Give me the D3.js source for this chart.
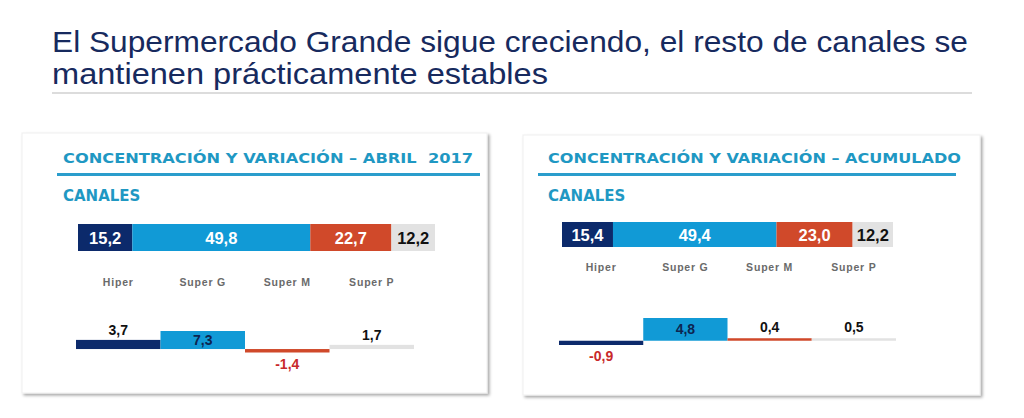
<!DOCTYPE html>
<html><head><meta charset="utf-8">
<script src="https://cdn.jsdelivr.net/npm/d3@7"></script>
<style>
body{margin:0;background:#fff;}
svg{display:block;}
</style></head>
<body>
<svg id="c" width="1024" height="418"></svg>
<script>
const categories = ["Hiper", "Super G", "Super M", "Super P"];
const titleLines = ["El Supermercado Grande sigue creciendo, el resto de canales se", "mantienen prácticamente estables"];
const panelTitles = ["CONCENTRACIÓN Y VARIACIÓN – ABRIL  2017", "CONCENTRACIÓN Y VARIACIÓN – ACUMULADO"];
const subTitle = "CANALES";
const shareAbril = [15.2, 49.8, 22.7, 12.2];
const varAbril = [3.7, 7.3, -1.4, 1.7];
const shareAcum = [15.4, 49.4, 23.0, 12.2];
const varAcum = [-0.9, 4.8, 0.4, 0.5];

const colors = ["#0c2a6b", "#119ad6", "#d0492a", "#e2e2e2"];
const shareText = ["#ffffff", "#ffffff", "#ffffff", "#111111"];
const loc = d3.formatLocale({decimal: ",", thousands: ".", grouping: [3], currency: ["", "€"], minus: "-"});
const fmt = loc.format(".1f");

const svg = d3.select("#c");
const defs = svg.append("defs");
const f = defs.append("filter").attr("id","sh").attr("x","-5%").attr("y","-5%").attr("width","115%").attr("height","115%");
f.append("feDropShadow").attr("dx",2).attr("dy",2).attr("stdDeviation",1.5).attr("flood-color","#000").attr("flood-opacity",0.35);

// main title
const titleW = [916, 496];
svg.append("g").selectAll("text").data(titleLines).join("text")
  .attr("x", 52).attr("y", (d,i) => 52 + i*32)
  .attr("font-family", "Liberation Sans, Arial, sans-serif")
  .attr("font-size", 29.5).attr("fill", "#172a5e")
  .attr("textLength", (d,i) => titleW[i]).attr("lengthAdjust","spacingAndGlyphs")
  .text(d => d);
svg.append("rect").attr("x",52).attr("y",92).attr("width",920).attr("height",2).attr("fill","#dcdcdc");

const panels = [
  {share: shareAbril, vari: varAbril, title: panelTitles[0], tw: 410,
   card:[22,133,465,260], tx:63, ruleX:[57,480], barX:[78,435], barY:[224,251],
   catX:[76,414], catY:286, yr:[352.5,331]},
  {share: shareAcum, vari: varAcum, title: panelTitles[1], tw: 413,
   card:[523,135,457,260], tx:548, ruleX:[538,956], barX:[562,893], barY:[222,247],
   catX:[559,896], catY:271, yr:[345,318]}
];

panels.forEach(p => {
  const g = svg.append("g");
  g.append("rect").attr("x",p.card[0]).attr("y",p.card[1]).attr("width",p.card[2]).attr("height",p.card[3])
    .attr("fill","#fff").attr("stroke","#efefef").attr("filter","url(#sh)");
  g.append("text").attr("x",p.tx).attr("y",163)
    .attr("font-family","DejaVu Sans, Verdana, sans-serif").attr("font-weight","bold")
    .attr("font-size",14).attr("fill","#1f98c3").style("white-space","pre").text(p.title)
    .attr("textLength", p.tw).attr("lengthAdjust","spacingAndGlyphs");
  g.append("rect").attr("x",p.ruleX[0]).attr("y",173).attr("width",p.ruleX[1]-p.ruleX[0]).attr("height",3).attr("fill","#2a9dcc");
  g.append("text").attr("x",p.tx).attr("y",201)
    .attr("font-family","DejaVu Sans, Verdana, sans-serif").attr("font-weight","bold")
    .attr("font-size",15).attr("fill","#1f98c3").text(subTitle);

  // stacked share bar
  const total = d3.sum(p.share);
  const x = d3.scaleLinear().domain([0,total]).range(p.barX);
  const cum = d3.cumsum(p.share);
  const segs = p.share.map((v,i) => ({v, i, x0: cum[i]-v, x1: cum[i]}));
  g.selectAll(".seg").data(segs).join("rect")
    .attr("x", d => x(d.x0)).attr("width", d => x(d.x1)-x(d.x0))
    .attr("y", p.barY[0]).attr("height", p.barY[1]-p.barY[0])
    .attr("fill", d => colors[d.i]);
  g.selectAll(".segl").data(segs).join("text")
    .attr("x", d => (x(d.x0)+x(d.x1))/2).attr("y", (p.barY[0]+p.barY[1])/2 + 6)
    .attr("text-anchor","middle").attr("font-family","Liberation Sans, Arial, sans-serif")
    .attr("font-weight","bold").attr("font-size",16.5)
    .attr("fill", d => shareText[d.i]).text(d => fmt(d.v));

  // categories
  const xb = d3.scaleBand().domain(categories).range(p.catX).padding(0);
  g.selectAll(".cat").data(categories).join("text")
    .attr("x", d => xb(d) + xb.bandwidth()/2).attr("y", p.catY)
    .attr("text-anchor","middle").attr("font-family","Liberation Sans, Arial, sans-serif")
    .attr("font-weight","bold").attr("font-size",10.5).attr("fill","#6a6a6a")
    .attr("letter-spacing", 0.8).text(d => d);

  // variation bars
  const y = d3.scaleLinear().domain([d3.min(p.vari), d3.max(p.vari)]).range(p.yr);
  const vd = p.vari.map((v,i) => ({v, i, c: categories[i]}));
  const minH = 2.5;
  g.selectAll(".vb").data(vd).join("rect")
    .attr("x", d => xb(d.c)).attr("width", xb.bandwidth())
    .attr("y", d => { const h = Math.max(minH, Math.abs(y(d.v)-y(0))); return d.v >= 0 ? y(0)-h : y(0); })
    .attr("height", d => Math.max(minH, Math.abs(y(d.v)-y(0))))
    .attr("fill", d => colors[d.i]);
  g.selectAll(".vl").data(vd).join("text")
    .attr("x", d => xb(d.c) + xb.bandwidth()/2)
    .attr("y", d => {
      const h = Math.max(minH, Math.abs(y(d.v)-y(0)));
      if (d.v < 0) return y(0) + h + 16;
      if (h > 15) return y(0) - h/2 + 5;
      return y(0) - Math.max(h,4) - 5;
    })
    .attr("text-anchor","middle").attr("font-family","Liberation Sans, Arial, sans-serif")
    .attr("font-weight","bold").attr("font-size",14)
    .attr("fill", d => d.v < 0 ? "#c8282a" : (d.i===1 ? "#0d2550" : "#111"))
    .text(d => fmt(d.v));
});
</script>
</body></html>
